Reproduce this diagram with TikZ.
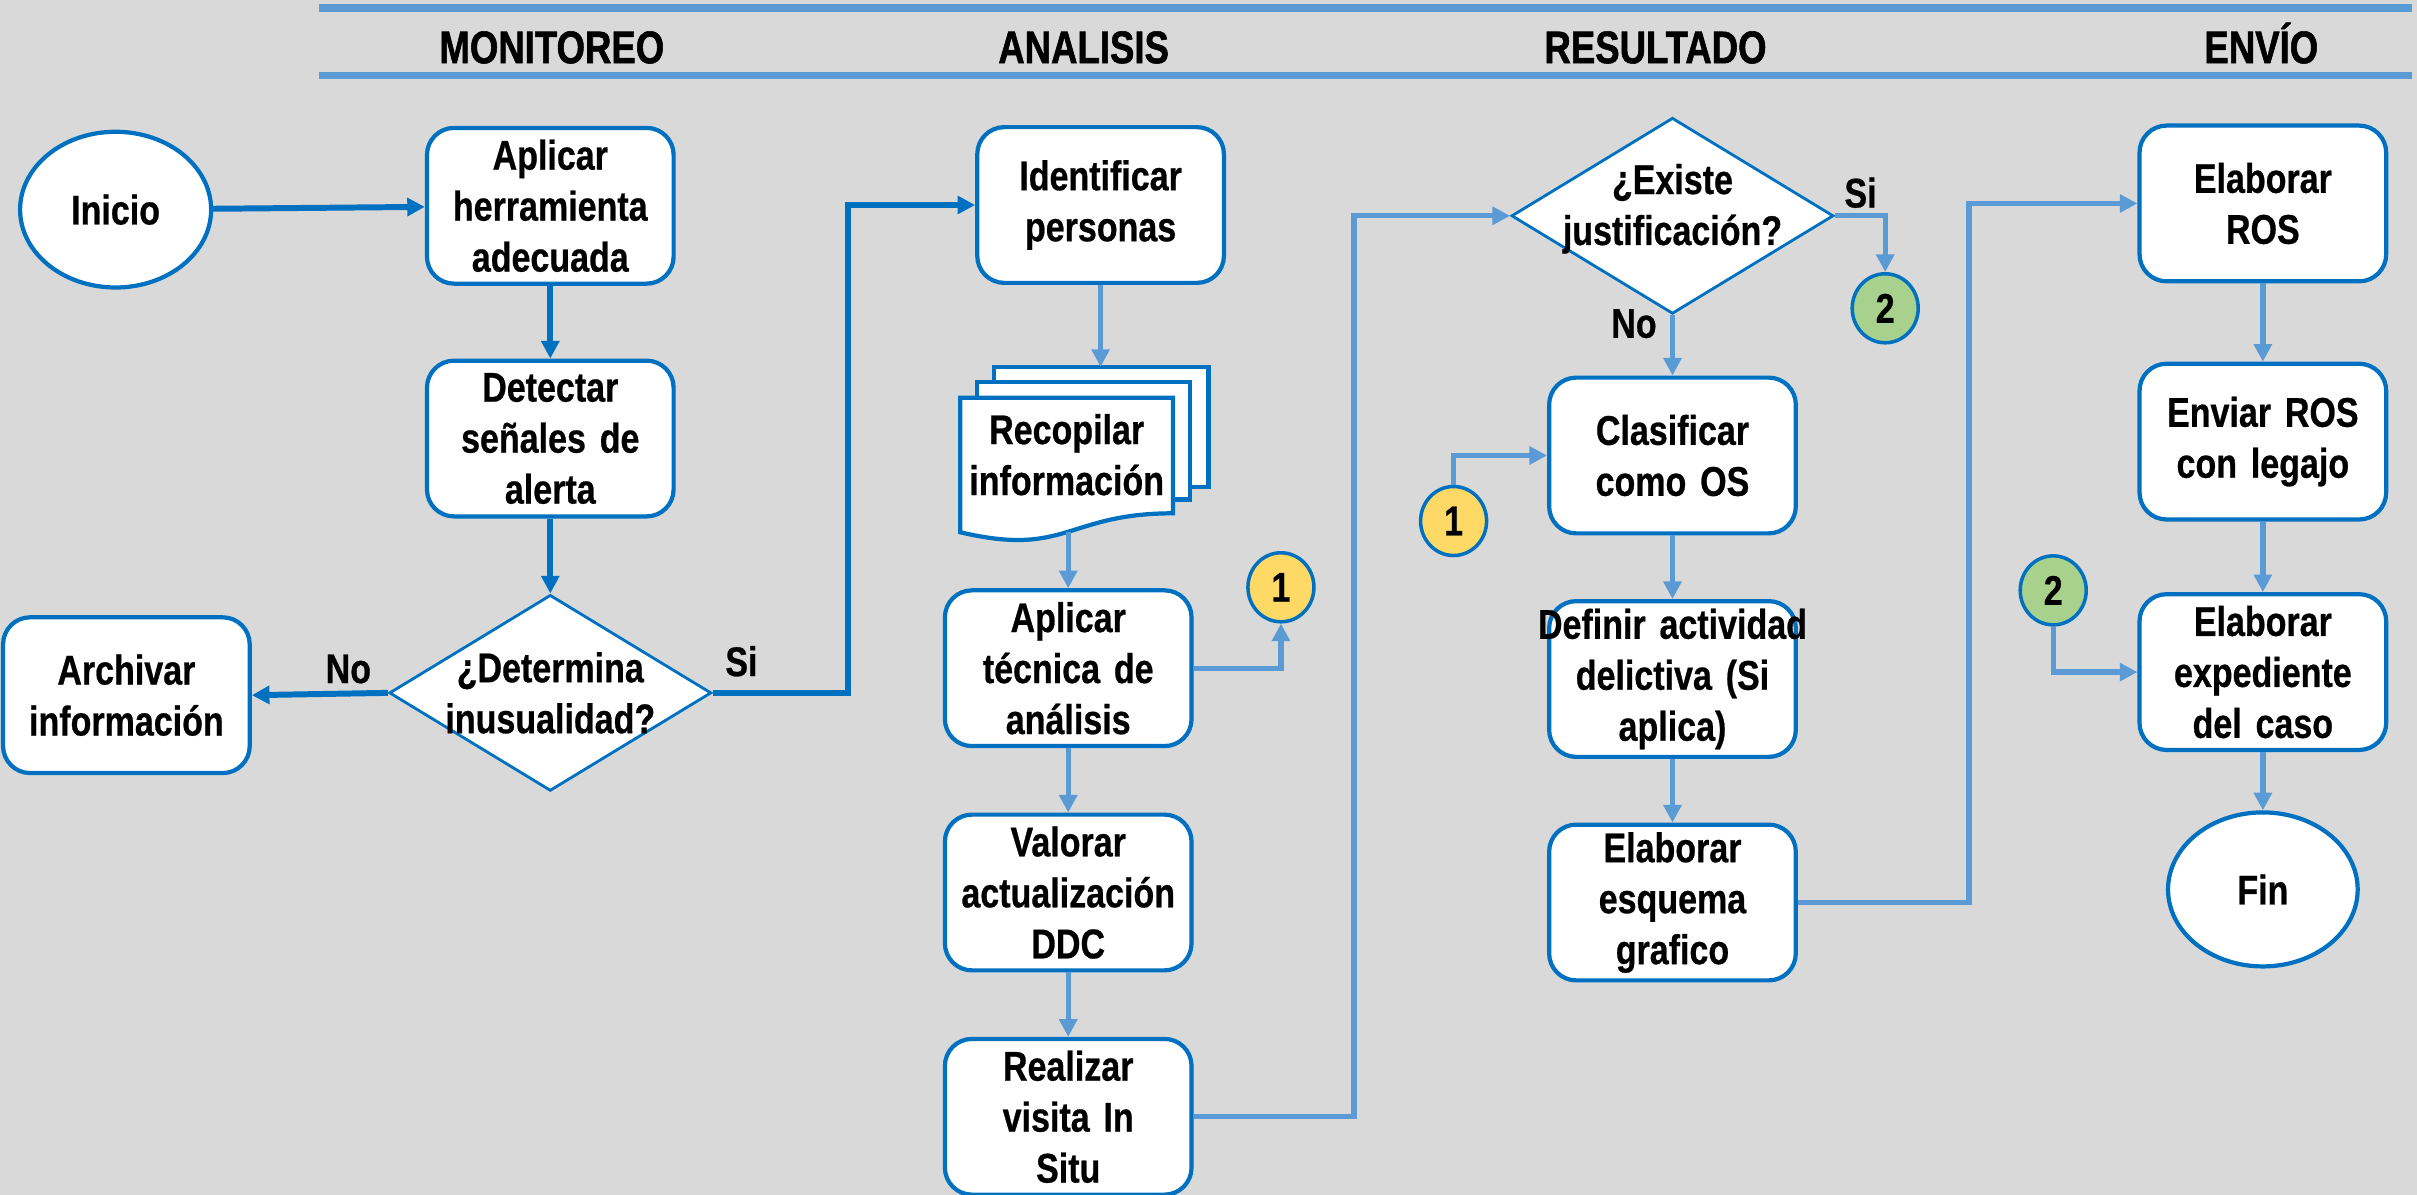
\documentclass[tikz,border=0pt]{standalone}
\usepackage{fontspec}
\setmainfont[FakeStretch=0.85]{Liberation Sans}
\newfontfamily\flowfam[FakeStretch=0.82,FakeBold=0.6]{Liberation Sans}
\newfontfamily\lanefam[FakeStretch=0.8,FakeBold=1.2]{Liberation Sans}
\usetikzlibrary{shapes.geometric,arrows.meta,positioning,calc}

\definecolor{boxblue}{HTML}{0070C0}
\definecolor{lineblue}{HTML}{5B9BD5}
\definecolor{bggray}{HTML}{D9D9D9}
\definecolor{connyellow}{HTML}{FFD966}
\definecolor{conngreen}{HTML}{A9D18E}

\newcommand{\flowfont}{\flowfam\fontsize{11.8}{14.5}\selectfont\bfseries}
\newcommand{\lanefont}{\lanefam\fontsize{13}{15}\selectfont\bfseries}
\newcommand{\wideline}[1]{\makebox[\linewidth]{#1}}

\tikzset{
  proc/.style={draw=boxblue, line width=1.2pt, fill=white, rounded corners=0.27cm,
    minimum width=2.466cm, minimum height=1.557cm, text width=2.2cm, align=center,
    inner sep=0pt, font=\flowfont},
  term/.style={ellipse, draw=boxblue, line width=1.2pt, fill=white,
    minimum width=1.91cm, minimum height=1.557cm, font=\flowfont},
  decision/.style={diamond, draw=boxblue, line width=0.8pt, fill=white,
    minimum width=3.22cm, minimum height=1.96cm, inner sep=0pt},
  conn/.style={ellipse, draw=boxblue, line width=1pt, minimum width=0.66cm,
    minimum height=0.69cm, inner sep=0pt, font=\flowfont},
  docpage/.style={draw=boxblue, line width=1.2pt, fill=white},
  darkflow/.style={draw=boxblue, line width=1.7pt, -{Triangle[width=5pt,length=5pt]}},
  lightflow/.style={draw=lineblue, line width=1.5pt, -{Triangle[width=5pt,length=5pt]}},
  lane/.style={draw=lineblue, line width=2.2pt},
  lanehead/.style={font=\lanefont, anchor=base},
  lbl/.style={font=\flowfont, align=center}
}

\begin{document}
\begin{tikzpicture}[x=0.015415cm, y=-0.015415cm]
  \path[use as bounding box, fill=bggray] (0,0) rectangle (1568,775);

  % lanes
  \draw[lane] (207,5) -- (1565,5);
  \draw[lane] (207,49) -- (1565,49);
  \node[lanehead] (hmon) at (358,41) {MONITOREO};
  \node[lanehead] (hana) at (703,41) {ANALISIS};
  \node[lanehead] (hres) at (1074,41) {RESULTADO};
  \node[lanehead] (henv) at (1467,41) {ENVÍO};

  % monitoreo
  \node[term] (ini) at (75,136) {Inicio};
  \node[proc] (herr) at (357,133.5) {Aplicar\\herramienta\\adecuada};
  \node[proc] (sen) at (357,284.5) {Detectar\\señales de\\alerta};
  \node[decision] (det) at (357,449.5) {};
  \node[lbl] (dettxt) at (det) {¿Determina\\inusualidad?};
  \node[proc] (arch) at (82,451) {Archivar\\información};

  % analisis
  \node[proc] (ident) at (714,133) {Identificar\\personas};
  \filldraw[docpage] (645,238) rectangle (784,316);
  \filldraw[docpage] (634,248) rectangle (772,324);
  \filldraw[docpage] (623,258) -- (761,258) -- (761,333)
    .. controls (692,333) and (692,361.6) .. (623,345.3) -- cycle;
  \node[lbl] (recop) at (692,295) {Recopilar\\información};
  \coordinate (recin) at (714,238);
  \coordinate (recout) at (693,345);
  \node[proc] (tec) at (693,433.5) {Aplicar\\técnica de\\análisis};
  \node[proc] (val) at (693,579) {Valorar\\actualización\\DDC};
  \node[proc] (vis) at (693,724.5) {Realizar\\visita In\\Situ};
  \node[conn, fill=connyellow] (c1a) at (831,381) {1};

  % resultado
  \node[decision] (exist) at (1085,140) {};
  \node[lbl] (existtxt) at ([yshift=2pt]exist.center) {¿Existe\\justificación?};
  \node[conn, fill=conngreen] (c2a) at (1223,200) {2};
  \node[proc] (clas) at (1085,295.5) {Clasificar\\como OS};
  \node[conn, fill=connyellow] (c1b) at (943,338) {1};
  \node[proc] (def) at (1085,440.5) {\wideline{Definir actividad}\\delictiva (Si\\aplica)};
  \node[proc] (esq) at (1085,585.5) {Elaborar\\esquema\\grafico};

  % envio
  \node[proc] (ros) at (1468,132) {Elaborar\\ROS};
  \node[proc] (env) at (1468,286.5) {Enviar ROS\\con legajo};
  \node[conn, fill=conngreen] (c2b) at (1332,383) {2};
  \node[proc] (exp) at (1468,436) {Elaborar\\expediente\\del caso};
  \node[term, minimum width=1.896cm, minimum height=1.54cm] (fin) at (1468,577) {Fin};

  % flujo
  \draw[darkflow] (ini) -- (herr);
  \draw[darkflow] (herr) -- (sen);
  \draw[darkflow] (sen) -- (det);
  \draw[darkflow] (det.west) -- (arch.east);
  \draw[darkflow] (det.east) -- ++(88,0) |- (ident.west);
  \node[lbl] (lno1) at (226,434) {No};
  \node[lbl] (lsi1) at (481,429) {Si};

  \draw[lightflow] (ident.south) -- (recin);
  \draw[lightflow] (recout) -- (recout |- tec.north);
  \draw[lightflow] (tec.east) -| (c1a.south);
  \draw[lightflow] (tec) -- (val);
  \draw[lightflow] (val) -- (vis);
  \draw[lightflow] (vis.east) -- ++(104,0) |- (exist.west);

  \draw[lightflow] (exist.east) -| (c2a.north);
  \draw[lightflow] (exist.south) -- (clas.north);
  \node[lbl] (lsi2) at (1207,125) {Si};
  \node[lbl] (lno2) at (1060,210) {No};
  \draw[lightflow] (c1b.north) |- (clas.west);
  \draw[lightflow] (clas) -- (def);
  \draw[lightflow] (def) -- (esq);
  \draw[lightflow] (esq.east) -- ++(111,0) |- (ros.west);

  \draw[lightflow] (ros) -- (env);
  \draw[lightflow] (env) -- (exp);
  \draw[lightflow] (c2b.south) |- (exp.west);
  \draw[lightflow] (exp) -- (fin);
\end{tikzpicture}
\end{document}
